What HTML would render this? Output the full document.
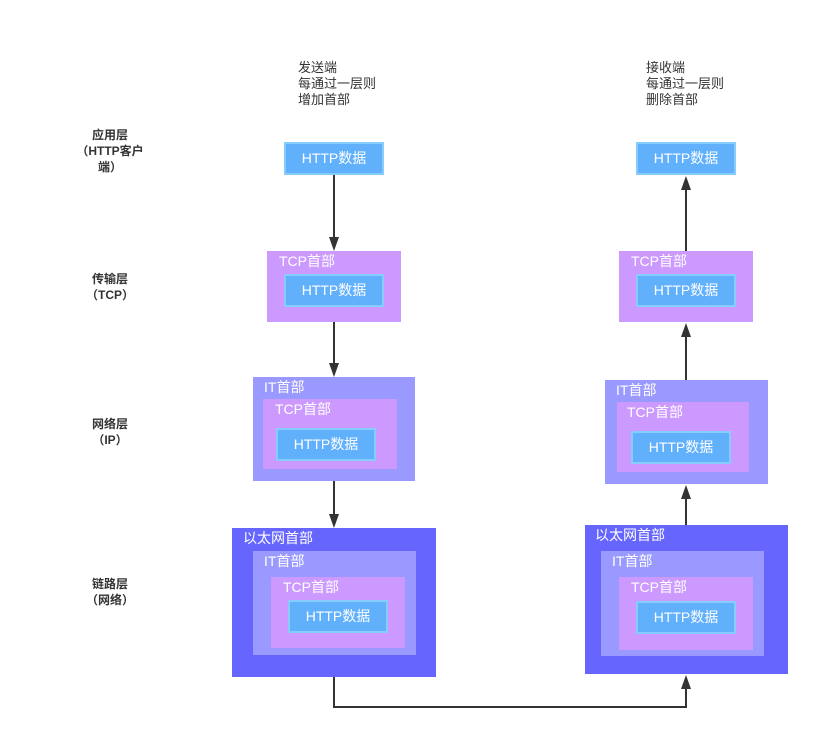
<!DOCTYPE html>
<html><head><meta charset="utf-8"><style>
body{margin:0;width:819px;height:739px;background:#fff;position:relative;overflow:hidden;font-family:"Liberation Sans","Noto Sans CJK SC",sans-serif}
.b{position:absolute;box-sizing:border-box}
.h{background:#61b0fc;border:2px solid #86ccff;color:#fff;font-size:14px;text-align:center;line-height:29px}
.t{background:#cc99ff}
.i{background:#9999ff}
.e{background:#6666ff}
.lb{position:absolute;color:#fff;font-size:14px;line-height:16px;white-space:nowrap}
.tx{position:absolute;font-size:13px;line-height:16px;color:#333;white-space:nowrap}
.ly{position:absolute;font-size:12px;font-weight:bold;line-height:16px;color:#333;text-align:center;width:100px;left:60px}
</style></head><body>
<div class="tx" style="left:298px;top:60px">发送端<br>每通过一层则<br>增加首部</div>
<div class="tx" style="left:646px;top:60px">接收端<br>每通过一层则<br>删除首部</div>
<div class="ly" style="top:127px">应用层<br>（HTTP客户<br>端）</div>
<div class="ly" style="top:271px">传输层<br>（TCP）</div>
<div class="ly" style="top:416px">网络层<br>（IP）</div>
<div class="ly" style="top:576px">链路层<br>（网络）</div>

<!-- left -->
<div class="b h" style="left:284px;top:142px;width:100px;height:33px">HTTP数据</div>
<div class="b t" style="left:267px;top:251px;width:134px;height:71px"></div>
<div class="lb" style="left:279px;top:253px">TCP首部</div>
<div class="b h" style="left:284px;top:274px;width:100px;height:33px">HTTP数据</div>

<div class="b i" style="left:253px;top:377px;width:162px;height:104px"></div>
<div class="lb" style="left:264px;top:379px">IT首部</div>
<div class="b t" style="left:263px;top:399px;width:134px;height:70px"></div>
<div class="lb" style="left:275px;top:401px">TCP首部</div>
<div class="b h" style="left:276px;top:428px;width:100px;height:33px">HTTP数据</div>

<div class="b e" style="left:232px;top:528px;width:204px;height:149px"></div>
<div class="lb" style="left:243px;top:530px">以太网首部</div>
<div class="b i" style="left:253px;top:551px;width:163px;height:104px"></div>
<div class="lb" style="left:264px;top:553px">IT首部</div>
<div class="b t" style="left:271px;top:577px;width:134px;height:71px"></div>
<div class="lb" style="left:283px;top:579px">TCP首部</div>
<div class="b h" style="left:288px;top:600px;width:100px;height:33px">HTTP数据</div>

<!-- right -->
<div class="b h" style="left:636px;top:142px;width:100px;height:33px">HTTP数据</div>
<div class="b t" style="left:619px;top:251px;width:134px;height:71px"></div>
<div class="lb" style="left:631px;top:253px">TCP首部</div>
<div class="b h" style="left:636px;top:274px;width:100px;height:33px">HTTP数据</div>

<div class="b i" style="left:605px;top:380px;width:163px;height:104px"></div>
<div class="lb" style="left:616px;top:382px">IT首部</div>
<div class="b t" style="left:617px;top:402px;width:132px;height:70px"></div>
<div class="lb" style="left:627px;top:404px">TCP首部</div>
<div class="b h" style="left:631px;top:431px;width:100px;height:33px">HTTP数据</div>

<div class="b e" style="left:585px;top:525px;width:203px;height:149px"></div>
<div class="lb" style="left:595px;top:527px">以太网首部</div>
<div class="b i" style="left:601px;top:551px;width:163px;height:105px"></div>
<div class="lb" style="left:612px;top:553px">IT首部</div>
<div class="b t" style="left:619px;top:577px;width:134px;height:73px"></div>
<div class="lb" style="left:631px;top:579px">TCP首部</div>
<div class="b h" style="left:636px;top:601px;width:100px;height:33px">HTTP数据</div>

<svg style="position:absolute;left:0;top:0" width="819" height="739">
<g stroke="#333" stroke-width="2" fill="none">
<line x1="334" y1="175" x2="334" y2="240"/>
<line x1="334" y1="322" x2="334" y2="366"/>
<line x1="334" y1="481" x2="334" y2="517"/>
<polyline points="334,677 334,707 686,707 686,686"/>
<line x1="686" y1="251" x2="686" y2="187"/>
<line x1="686" y1="380" x2="686" y2="334"/>
<line x1="686" y1="525" x2="686" y2="496"/>
</g>
<g fill="#333">
<polygon points="329,237 339,237 334,251"/>
<polygon points="329,363 339,363 334,377"/>
<polygon points="329,514 339,514 334,528"/>
<polygon points="681,190 691,190 686,176"/>
<polygon points="681,337 691,337 686,323"/>
<polygon points="681,499 691,499 686,485"/>
<polygon points="681,689 691,689 686,675"/>
</g>
</svg>
</body></html>
